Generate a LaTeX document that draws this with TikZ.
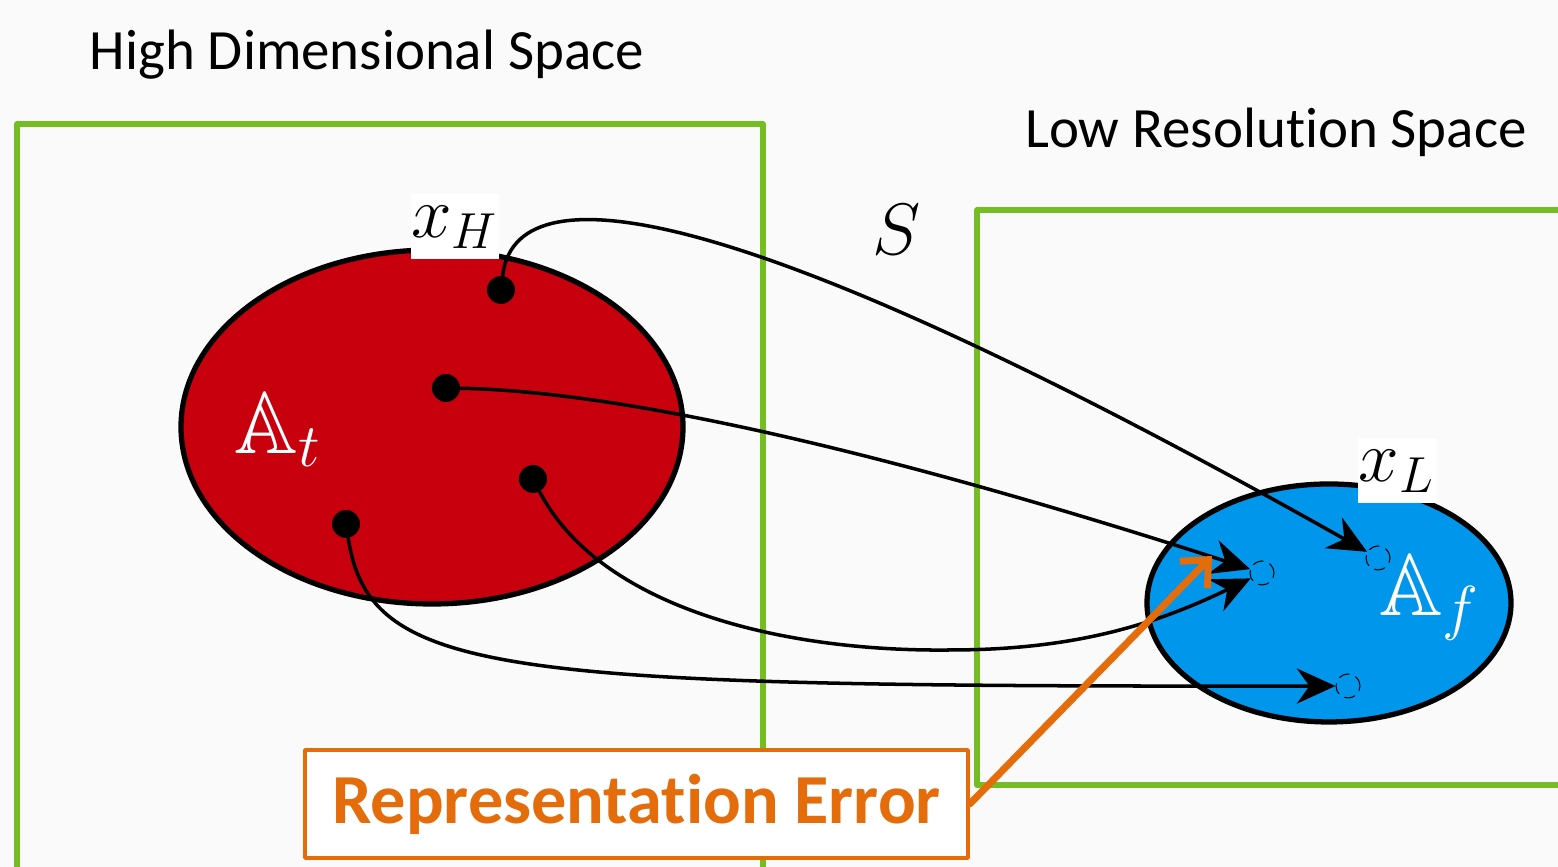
\documentclass[tikz,border=0pt]{standalone}
\usepackage{amsmath,amssymb}
\usepackage{fontspec}
\usetikzlibrary{arrows.meta,positioning}
\setmainfont{Carlito}[Ligatures=NoCommon]
\definecolor{spacegreen}{RGB}{116,190,36}
\definecolor{setred}{RGB}{200,0,14}
\definecolor{setblue}{RGB}{0,150,235}
\definecolor{errorange}{RGB}{228,108,10}
\definecolor{paper}{RGB}{250,250,250}

\begin{document}
\begin{tikzpicture}[line cap=round,line join=round,
  spacebox/.style={spacegreen,line width=1.6pt,line cap=butt},
  point/.style={circle,fill=black,inner sep=0pt,minimum size=2.8mm},
  imagept/.style={circle,draw=black,densely dashed,line width=.3pt,inner sep=0pt,minimum size=2.4mm},
  mapto/.style={-{Stealth[length=11pt,width=10pt]},line width=1pt},
  tag/.style={fill=white,inner sep=0pt,minimum width=8.6mm,minimum height=6.5mm},
  heading/.style={font=\fontsize{16.2}{18}\selectfont}]
\useasboundingbox (0,0) rectangle (15.58,8.67);
\fill[paper] (0,0) rectangle (15.58,8.67);
% Dwie przestrzenie: wysokowymiarowa i niskiej rozdzielczości.
\draw[spacebox] (0.17,0) |- (7.63,7.43) -- (7.63,0);
\draw[spacebox] (15.7,6.57) -| (9.77,0.82) -- (15.7,0.82);
\node[heading] (high) at (3.67,8.12) {High Dimensional Space};
\node[heading] (low) at (12.76,7.35) {Low Resolution Space};
\fill[setred] (4.32,4.40) ellipse (2.51 and 1.77);
\draw[line width=1.5pt] (4.32,4.40) ellipse (2.51 and 1.77);
\fill[setblue] (13.29,2.64) ellipse (1.82 and 1.19);
\draw[line width=1.5pt] (13.29,2.64) ellipse (1.82 and 1.19);
\node[white,font=\fontsize{25}{28}\selectfont] (At) at (2.78,4.37) {$\mathbb{A}_t$};
\node[white,font=\fontsize{25}{28}\selectfont] (Af) at (14.30,2.69) {$\mathbb{A}_f$};
\node[tag,font=\fontsize{20}{22}\selectfont] (xH) at (4.55,6.40) {$x_H$};
\node[tag,minimum width=7.9mm,font=\fontsize{20}{22}\selectfont] (xL) at (13.97,3.96) {$x_L$};
\node[font=\fontsize{22}{24}\selectfont] (S) at (8.97,6.37) {$S$};
\node[point] (p1) at (5.01,5.77) {};
\node[point] (p2) at (4.46,4.79) {};
\node[point] (p3) at (5.33,3.88) {};
\node[point] (p4) at (3.46,3.43) {};
\node[imagept] (q1) at (12.62,2.94) {};
\node[imagept] (q2) at (13.78,3.09) {};
\node[imagept] (q3) at (13.48,1.81) {};
% Odwzorowanie S przenosi punkty zbioru A_t do A_f.
\draw[mapto] (p1) .. controls (5.15,6.95) and (7.2,6.8) .. (q2);
\draw[mapto] (p2) .. controls (6.5,4.75) and (9.5,3.95) .. (q1);
\draw[mapto] (p3) .. controls (6.0,2.6) and (7.8,2.15) .. (9.5,2.17)
  .. controls (10.8,2.17) and (11.6,2.45) .. (q1);
\draw[mapto] (p4) .. controls (3.7,1.9) and (5.0,1.8) .. (q3);
\node[draw=errorange,line width=1pt,fill=white,minimum width=6.63cm,minimum height=1.08cm,
  text=errorange,font=\fontsize{20}{22}\selectfont\bfseries] (err) at (6.365,0.63) {Representation Error};
\coordinate (errtip) at (12.12,3.11);
\draw[errorange,line width=2pt,-{Straight Barb[length=6pt,width=11pt]}] (err.east) -- (errtip);
\end{tikzpicture}
\end{document}
